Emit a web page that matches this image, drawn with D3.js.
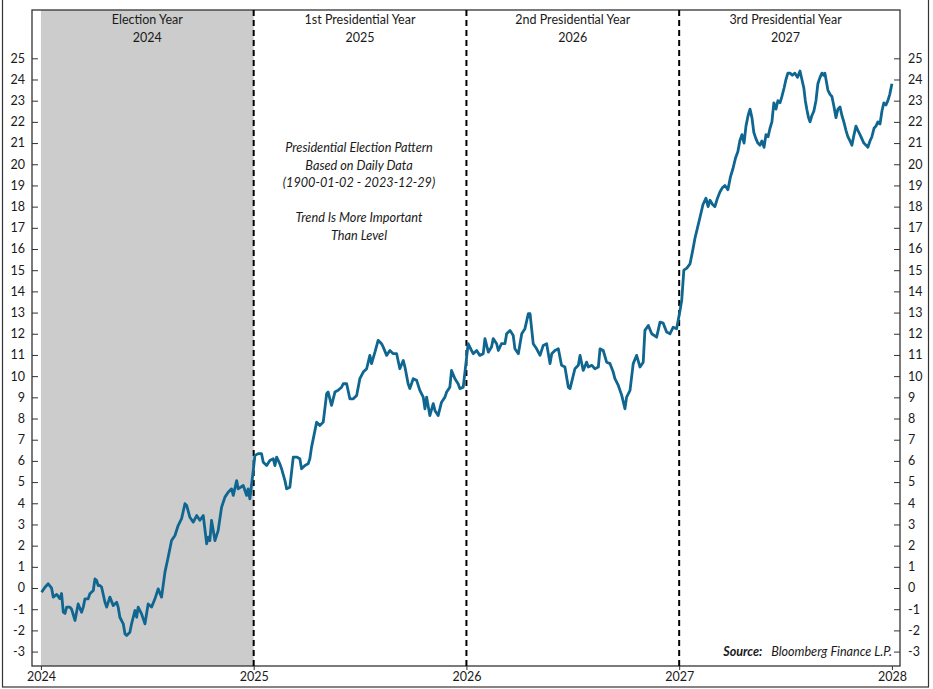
<!DOCTYPE html>
<html><head><meta charset="utf-8">
<script src="https://cdn.jsdelivr.net/npm/d3@7/dist/d3.min.js"></script>
<style>
body{margin:0;background:#fff}
text{font-family:Lato,"Open Sans",sans-serif;fill:#1a1a1a}
</style>
</head><body>
<svg id="chart" width="933" height="689"></svg>
<script>
// ---------- DATA ----------
const yearTicks = [2024, 2025, 2026, 2027, 2028];
const periodTitles = ["Election Year", "1st Presidential Year", "2nd Presidential Year", "3rd Presidential Year"];
const periodYears = ["2024", "2025", "2026", "2027"];
const yTickValues = [-3,-2,-1,0,1,2,3,4,5,6,7,8,9,10,11,12,13,14,15,16,17,18,19,20,21,22,23,24,25];
const noteLines = ["Presidential Election Pattern", "Based on Daily Data", "(1900-01-02 - 2023-12-29)", "", "Trend Is More Important", "Than Level"];
const sourceLabel = "Source:";
const sourceText = "Bloomberg Finance L.P.";

// time in years since start of 2024
const yearsElapsed = [
0.003,0.019,0.034,0.042,0.050,0.058,0.074,0.089,0.097,0.105,0.113,0.121,0.136,0.144,0.160,0.175,0.191,0.199,0.207,0.222,
0.230,0.246,0.254,0.262,0.269,0.277,0.285,0.301,0.309,0.324,0.340,0.356,0.363,0.371,0.387,0.395,0.403,0.418,0.426,0.442,
0.450,0.457,0.473,0.489,0.504,0.520,0.536,0.551,0.567,0.583,0.598,0.614,0.630,0.645,0.661,0.677,0.685,0.700,0.716,0.732,
0.747,0.763,0.779,0.786,0.794,0.802,0.818,0.833,0.849,0.865,0.880,0.896,0.904,0.920,0.927,0.951,0.967,0.974,0.982,0.998,
1.006,1.021,1.037,1.045,1.061,1.076,1.092,1.100,1.108,1.123,1.131,1.147,1.155,1.170,1.186,1.202,1.217,1.225,1.241,1.256,
1.264,1.272,1.280,1.296,1.311,1.327,1.343,1.350,1.366,1.382,1.397,1.413,1.421,1.437,1.452,1.468,1.484,1.499,1.515,1.531,
1.546,1.554,1.570,1.585,1.601,1.609,1.625,1.640,1.656,1.672,1.687,1.703,1.711,1.726,1.734,1.750,1.766,1.781,1.797,1.805,
1.813,1.828,1.844,1.852,1.867,1.883,1.899,1.907,1.922,1.930,1.946,1.961,1.969,1.985,2.001,2.008,2.024,
2.032,2.048,2.063,2.079,2.087,2.103,2.118,2.126,2.142,2.150,2.165,2.181,2.189,2.205,2.220,2.228,2.244,2.260,2.275,2.291,
2.299,2.314,2.330,2.346,2.361,2.377,2.393,2.401,2.416,2.432,2.447,2.463,2.479,2.487,2.510,2.526,2.534,2.549,2.565,2.573,
2.589,2.604,2.620,2.628,2.643,2.659,2.675,2.690,2.698,2.714,2.730,2.745,2.753,2.769,2.784,2.800,2.816,2.831,2.839,2.855,
2.871,2.894,2.910,2.925,2.941,2.957,2.972,2.988,3.004,3.012,
3.022,3.036,3.051,3.063,3.074,3.086,3.098,3.112,3.126,3.136,3.145,3.157,3.168,3.180,3.192,3.204,3.215,3.229,3.241,3.253,
3.265,3.276,3.285,3.295,3.305,3.314,3.324,3.333,3.342,3.351,3.361,3.370,3.380,3.389,3.399,3.408,3.418,3.427,3.436,3.445,
3.455,3.464,3.474,3.483,3.493,3.502,3.511,3.521,3.532,3.544,3.556,3.568,3.577,3.586,3.593,3.600,3.608,3.615,3.624,3.633,
3.643,3.652,3.662,3.671,3.678,3.685,3.692,3.699,3.709,3.718,3.728,3.737,3.746,3.756,3.765,3.774,3.784,3.793,3.803,3.812,
3.822,3.831,3.840,3.850,3.859,3.868,3.878,3.887,3.897,3.906,3.916,3.925,3.934,3.944,3.953,3.962,3.972,3.981,3.990,4.000
];
const patternValues = [
-0.20,0.04,0.20,0.10,0.00,-0.43,-0.30,-0.50,-0.26,-1.14,-1.20,-0.90,-0.90,-1.00,-1.53,-0.75,-1.14,-0.90,-0.51,-0.51,
-0.27,-0.12,0.43,0.35,0.12,0.12,0.05,-0.67,-0.90,-0.43,-0.83,-0.67,-0.90,-1.38,-1.69,-2.16,-2.24,-2.09,-1.69,-1.06,
-1.38,-0.90,-1.22,-1.69,-0.75,-0.90,-0.51,-0.04,-0.43,0.75,1.45,2.24,2.48,2.95,3.27,3.98,3.90,3.34,3.11,3.42,
3.20,3.42,2.09,2.40,2.24,3.19,2.24,2.71,3.81,4.29,4.52,4.68,4.37,5.07,4.68,4.84,4.37,4.68,4.21,5.55,
6.26,6.34,6.34,5.94,5.78,6.02,6.10,5.78,6.18,5.86,5.63,5.07,4.68,4.76,6.18,6.18,6.10,5.63,5.78,5.86,
6.10,6.65,7.04,7.83,7.67,7.83,9.17,9.25,8.62,9.25,9.33,9.48,9.64,9.64,8.93,8.93,9.09,9.88,10.19,10.35,
10.98,10.59,11.13,11.69,11.53,11.37,10.98,11.21,11.06,11.06,10.35,10.74,10.43,9.64,9.41,9.88,9.80,9.33,9.01,8.46,
9.01,8.14,8.70,8.38,8.14,8.77,9.01,9.25,9.48,10.27,9.88,9.64,9.41,9.48,10.90,11.53,11.21,
11.06,11.21,10.98,11.06,11.77,11.13,11.37,11.77,11.53,11.21,11.53,11.53,12.00,12.16,11.92,11.29,11.06,12.00,12.24,12.95,
12.95,11.53,11.29,10.98,11.45,11.53,10.59,11.06,11.21,11.29,10.51,10.43,9.48,9.41,10.35,10.51,10.98,10.27,10.66,10.43,
10.51,10.35,10.43,11.29,11.21,10.66,10.59,10.19,9.88,9.56,9.09,8.46,9.01,9.33,10.59,10.98,10.43,10.66,12.16,12.39,
12.00,11.84,12.55,12.50,12.08,12.00,12.31,12.24,13.10,13.58,
15.0,15.1,15.3,15.9,16.5,17.0,17.5,18.1,18.4,18.0,18.3,18.1,18.0,18.4,18.7,18.9,19.0,18.8,19.4,19.8,
20.3,20.6,21.1,21.4,21.0,21.8,22.3,22.6,22.2,21.5,21.2,21.0,20.9,21.1,20.8,21.4,21.3,21.7,22.0,22.9,
22.6,23.0,22.9,23.2,23.6,24.0,24.3,24.3,24.2,24.3,24.1,24.4,24.0,23.6,23.0,22.6,22.2,22.0,22.3,22.5,
23.0,23.8,24.1,24.3,24.2,24.3,23.9,23.5,23.3,23.2,22.7,22.2,22.6,22.7,22.3,22.0,21.6,21.3,21.1,20.9,
21.4,21.8,21.6,21.4,21.2,21.0,20.9,20.8,21.1,21.3,21.7,21.8,22.0,21.9,22.5,22.9,22.8,23.0,23.3,23.8
];

// ---------- LAYOUT ----------
const plot = {left: 32, right: 900, top: 10, bottom: 666};
const svg = d3.select("#chart");

const x = d3.scaleLinear().domain([2023.958, 2028.038]).range([plot.left, plot.right]);
const y = d3.scaleLinear().domain([-3.68, 27.28]).range([plot.bottom, plot.top]);

// outer frame
svg.append("rect").attr("x", 2.5).attr("y", -2).attr("width", 926).attr("height", 689)
  .attr("fill", "none").attr("stroke", "#333").attr("stroke-width", 1.2);

// shaded election year
svg.append("rect")
  .attr("x", x(yearTicks[0])).attr("y", plot.top)
  .attr("width", x(yearTicks[1]) - x(yearTicks[0])).attr("height", plot.bottom - plot.top)
  .attr("fill", "#cccccc");

// plot frame
svg.append("rect").attr("x", plot.left).attr("y", plot.top)
  .attr("width", plot.right - plot.left).attr("height", plot.bottom - plot.top)
  .attr("fill", "none").attr("stroke", "#333").attr("stroke-width", 1.3);

// dashed year separators
svg.selectAll("line.sep").data(yearTicks.slice(1, 4)).enter().append("line")
  .attr("class", "sep")
  .attr("x1", d => x(d)).attr("x2", d => x(d))
  .attr("y1", plot.top).attr("y2", plot.bottom)
  .attr("stroke", "#000").attr("stroke-width", 2).attr("stroke-dasharray", "6,4");

// y axes (ticks inside)
const yLeft = d3.axisRight(y).tickValues(yTickValues).tickSize(6).tickFormat("");
svg.append("g").attr("transform", `translate(${plot.left},0)`).call(yLeft)
  .call(g => { g.select(".domain").remove(); g.selectAll("line").attr("stroke", "#333"); });
const yRight = d3.axisLeft(y).tickValues(yTickValues).tickSize(6).tickFormat("");
svg.append("g").attr("transform", `translate(${plot.right},0)`).call(yRight)
  .call(g => { g.select(".domain").remove(); g.selectAll("line").attr("stroke", "#333"); });

// y labels
svg.append("g").selectAll("text").data(yTickValues).enter().append("text")
  .attr("x", 25).attr("y", d => y(d)).attr("dy", "0.35em")
  .attr("text-anchor", "end").attr("font-size", 12.5).text(d => d);
svg.append("g").selectAll("text").data(yTickValues).enter().append("text")
  .attr("x", 908).attr("y", d => y(d)).attr("dy", "0.35em")
  .attr("text-anchor", "start").attr("font-size", 12.5).text(d => d);

// x axis
const xAxis = d3.axisBottom(x).tickValues(yearTicks).tickSize(4).tickFormat(d3.format("d"));
svg.append("g").attr("transform", `translate(0,${plot.bottom})`).call(xAxis)
  .call(g => {
    g.select(".domain").remove();
    g.selectAll("line").attr("stroke", "#333");
    g.selectAll("text").attr("font-size", 12.5).attr("fill", "#1a1a1a").attr("dy", "0.6em")
      .style("font-family", "Lato, 'Open Sans', sans-serif");
  });

// period headers
const mids = periodTitles.map((t, i) => (x(yearTicks[i]) + x(yearTicks[i + 1])) / 2);
svg.append("g").selectAll("text").data(periodTitles).enter().append("text")
  .attr("x", (d, i) => mids[i]).attr("y", 24).attr("text-anchor", "middle")
  .attr("font-size", 12.5).text(d => d);
svg.append("g").selectAll("text").data(periodYears).enter().append("text")
  .attr("x", (d, i) => mids[i]).attr("y", 42).attr("text-anchor", "middle")
  .attr("font-size", 12.5).text(d => d);

// annotation
svg.append("g").selectAll("text").data(noteLines).enter().append("text")
  .attr("x", 359).attr("y", (d, i) => 152 + i * 17.5)
  .attr("text-anchor", "middle").attr("font-size", 12.7).attr("font-style", "italic")
  .text(d => d);

// source
const src = svg.append("text").attr("x", 892).attr("y", 656).attr("text-anchor", "end")
  .attr("font-size", 12.6).attr("font-style", "italic").attr("xml:space", "preserve");
src.append("tspan").attr("font-weight", "bold").text(sourceLabel);
src.append("tspan").text("   " + sourceText);

// line
const pts = yearsElapsed.map((t, i) => ({t: yearTicks[0] + t, v: patternValues[i]}));
svg.append("path").datum(pts)
  .attr("fill", "none").attr("stroke", "#0f6690").attr("stroke-width", 2.8)
  .attr("stroke-linejoin", "round")
  .attr("d", d3.line().x(d => x(d.t)).y(d => y(d.v)));
</script>
</body></html>
